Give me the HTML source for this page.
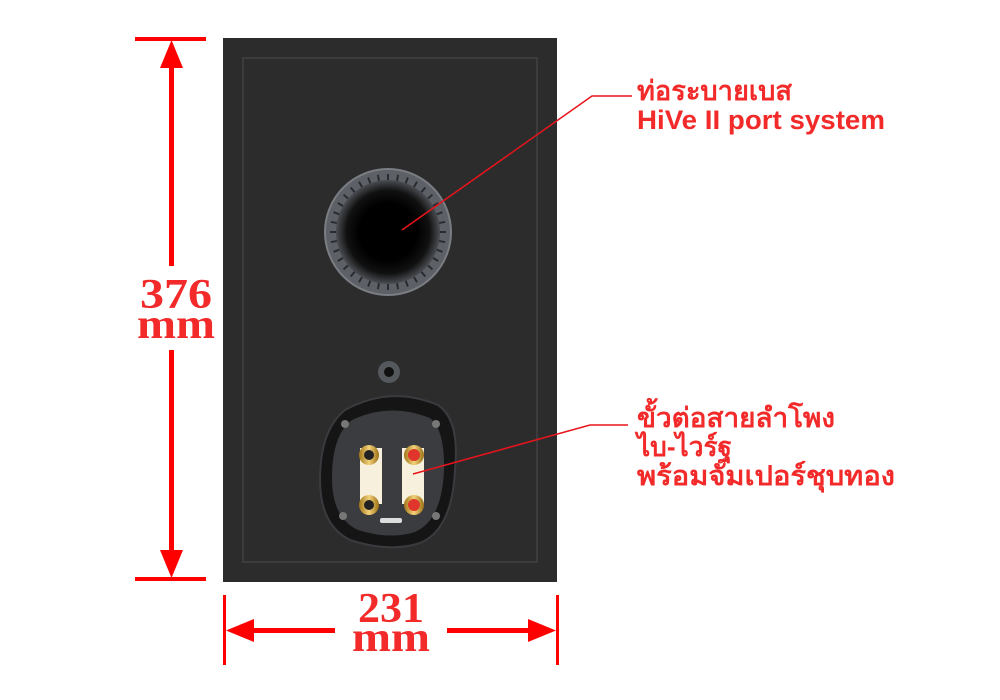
<!DOCTYPE html>
<html><head><meta charset="utf-8"><style>
html,body{margin:0;padding:0;background:#fff;width:1000px;height:700px;overflow:hidden}
svg{display:block}
.lab{font-family:"Liberation Sans","Noto Sans CJK SC",sans-serif;fill:#f22a2a;font-weight:bold;font-size:27px}
.dim{font-family:"Liberation Serif",serif;fill:#f22a2a;font-weight:bold;font-size:42px}
</style></head><body>
<svg width="1000" height="700" viewBox="0 0 1000 700">
<defs>
<radialGradient id="hole" cx="0.5" cy="0.5" r="0.5">
<stop offset="0.55" stop-color="#000"/><stop offset="0.8" stop-color="#111"/><stop offset="1" stop-color="#4a4d52"/>
</radialGradient>
<linearGradient id="gold" x1="0" x2="1"><stop offset="0" stop-color="#a07418"/><stop offset="0.5" stop-color="#f3d27a"/><stop offset="1" stop-color="#9a6f15"/></linearGradient>
</defs>
<rect x="223" y="38" width="334" height="544" fill="#2c2c2d"/>
<rect x="243" y="58" width="294" height="504" fill="none" stroke="#3c3c3e" stroke-width="2"/>
<circle cx="388" cy="232" r="63" fill="#5d6066" stroke="#7a7d82" stroke-width="2"/>
<g stroke="#2a2b2e" stroke-width="2" id="ribs"></g>
<circle cx="388" cy="232" r="52" fill="url(#hole)"/>
<circle cx="389" cy="372" r="11" fill="#55585d"/>
<circle cx="389" cy="372" r="5" fill="#111"/>
<path d="M345 410 Q390 385 438 405 Q460 420 455 470 Q452 530 420 543 Q390 553 350 540 Q320 525 320 480 Q320 430 345 410Z" fill="#151516" stroke="#3a3b3e" stroke-width="2"/>
<path d="M352 420 Q390 402 430 418 Q445 430 444 470 Q442 520 415 532 Q390 540 358 530 Q332 518 332 478 Q332 435 352 420Z" fill="#3b3c3f"/>
<circle cx="345" cy="424" r="4" fill="#777"/><circle cx="436" cy="424" r="4" fill="#777"/>
<circle cx="343" cy="516" r="4" fill="#777"/><circle cx="436" cy="516" r="4" fill="#777"/>
<rect x="360" y="448" width="22" height="56" fill="#f6f0dc"/>
<rect x="402" y="448" width="22" height="56" fill="#f6f0dc"/>
<circle cx="369" cy="455" r="10" fill="url(#gold)"/><circle cx="369" cy="455" r="5" fill="#222"/>
<circle cx="369" cy="505" r="10" fill="url(#gold)"/><circle cx="369" cy="505" r="5" fill="#222"/>
<circle cx="414" cy="455" r="10" fill="url(#gold)"/><circle cx="414" cy="455" r="6" fill="#e0352a"/>
<circle cx="414" cy="505" r="10" fill="url(#gold)"/><circle cx="414" cy="505" r="6" fill="#e0352a"/>
<rect x="380" y="518" width="22" height="5" rx="2" fill="#ddd"/>
<polyline points="402,230 592,96 632,96" fill="none" stroke="#e8141b" stroke-width="1.5"/>
<polyline points="413,474 590,425 628,425" fill="none" stroke="#e8141b" stroke-width="1.5"/>
<text class="lab" x="637" y="100" textLength="155" lengthAdjust="spacingAndGlyphs">ท่อระบายเบส</text>
<text class="lab" x="637" y="129" textLength="248" lengthAdjust="spacingAndGlyphs">HiVe II port system</text>
<text class="lab" x="637" y="427" textLength="198" lengthAdjust="spacingAndGlyphs">ขั้วต่อสายลำโพง</text>
<text class="lab" x="637" y="456" textLength="95" lengthAdjust="spacingAndGlyphs">ไบ-ไวร์ฐ</text>
<text class="lab" x="637" y="485" textLength="258" lengthAdjust="spacingAndGlyphs">พร้อมจัมเปอร์ชุบทอง</text>
<g fill="#f00" stroke="none">
<rect x="135" y="37" width="71" height="4"/>
<rect x="135" y="577" width="71" height="4"/>
<rect x="169" y="66" width="5" height="200"/>
<rect x="169" y="350" width="5" height="200"/>
<polygon points="171.5,40 160,68 183,68"/>
<polygon points="171.5,578 160,550 183,550"/>
<rect x="223" y="595" width="3" height="70"/>
<rect x="556" y="595" width="3" height="70"/>
<rect x="252" y="628" width="83" height="5"/>
<rect x="447" y="628" width="83" height="5"/>
<polygon points="226,630.5 254,619 254,642"/>
<polygon points="556,630.5 528,619 528,642"/>
</g>
<text class="dim" x="176" y="308" text-anchor="middle" textLength="72" lengthAdjust="spacingAndGlyphs">376</text>
<text class="dim" x="176" y="338" text-anchor="middle" textLength="78" lengthAdjust="spacingAndGlyphs">mm</text>
<text class="dim" x="391" y="622" text-anchor="middle" textLength="66" lengthAdjust="spacingAndGlyphs">231</text>
<text class="dim" x="391" y="651" text-anchor="middle" textLength="78" lengthAdjust="spacingAndGlyphs">mm</text>
</svg>
<script>
var g=document.getElementById('ribs');
for(var i=0;i<36;i++){var a=i*Math.PI*2/36;var l=document.createElementNS('http://www.w3.org/2000/svg','line');
l.setAttribute('x1',388+58*Math.cos(a));l.setAttribute('y1',232+58*Math.sin(a));
l.setAttribute('x2',388+44*Math.cos(a));l.setAttribute('y2',232+44*Math.sin(a));g.appendChild(l);}
</script>
</body></html>
